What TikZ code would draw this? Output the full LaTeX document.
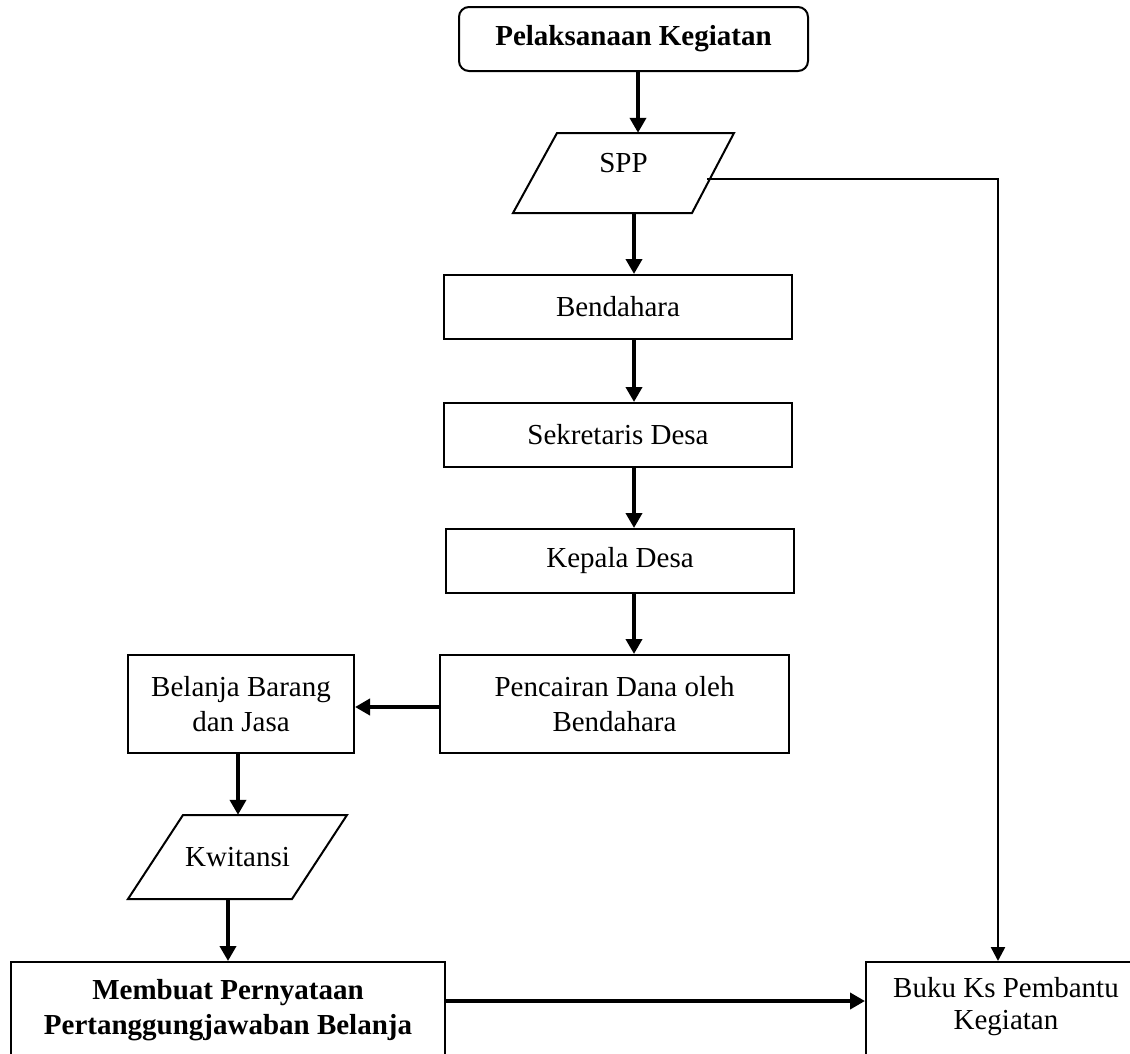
\documentclass[tikz,border=0pt]{standalone}
\usepackage{fontspec}
\setmainfont{Liberation Serif}
\usetikzlibrary{arrows.meta,calc}
\begin{document}
\begin{tikzpicture}[x=1pt,y=-1pt,
  txt/.style={font=\fontsize{29}{35}\selectfont, align=center, inner sep=0pt},
  boxnode/.style={txt, draw, line width=2pt, rectangle},
  plain/.style={txt, draw=none},
  outline/.style={draw, line width=2pt, line join=miter},
  flow/.style={line width=4pt, -{Triangle[length=15pt,width=16pt]}},
  thinflow/.style={line width=2.5pt, -{Triangle[length=14pt,width=14pt]}}
]
\useasboundingbox (0,0) rectangle (1130,1053);
\clip (0,0) rectangle (1130,1053);

% nodes
\node[boxnode, rounded corners=10pt, minimum width=349pt, minimum height=64pt, font=\fontsize{29}{35}\selectfont\bfseries] (top) at (633.5,39) {Pelaksanaan Kegiatan};

\draw[outline] (557,133) -- (734,133) -- (692,213) -- (513,213) -- cycle;
\node[plain, minimum width=170pt, minimum height=80pt] (spp) at (623.5,173) {\raisebox{10pt}[\height][\depth]{SPP}};
\coordinate (sppout) at (707,179);

\node[boxnode, minimum width=348pt, minimum height=64pt] (bend) at (618,307) {Bendahara};
\node[boxnode, minimum width=348pt, minimum height=64pt] (sek) at (618,435) {Sekretaris Desa};
\node[boxnode, minimum width=348pt, minimum height=64pt] (kep) at (620,561) {Kepala Desa};
\node[boxnode, minimum width=349pt, minimum height=98pt] (pen) at (614.5,704) {Pencairan Dana oleh\\Bendahara};
\node[boxnode, minimum width=226pt, minimum height=98pt] (bel) at (241,704) {Belanja Barang\\dan Jasa};

\draw[outline] (183,815) -- (347,815) -- (292,899) -- (128,899) -- cycle;
\node[plain, minimum width=160pt, minimum height=84pt] (kw) at (237.5,857) {Kwitansi};

\node[boxnode, minimum width=434pt, minimum height=111pt, font=\fontsize{29}{35}\selectfont\bfseries] (mem) at (228,1017.5) {\raisebox{8pt}[\height][\depth]{\begin{tabular}{@{}c@{}}Membuat Pernyataan\\Pertanggungjawaban Belanja\end{tabular}}};
\node[boxnode, minimum width=330pt, minimum height=107pt, font=\fontsize{29}{32}\selectfont] (buku) at (1031,1015.5) {\raisebox{8pt}[\height][\depth]{\begin{tabular}{@{}c@{}}Buku Ks Pembantu\\Kegiatan\end{tabular}}\hspace*{50pt}};

\coordinate (col) at (634,0);

% connectors
\draw[flow] ([xshift=4.5pt]top.south) -- ([xshift=4.5pt]top.south |- spp.north);
\draw[flow] (spp.south -| col) -- (bend.north -| col);
\draw[flow] (bend.south -| col) -- (sek.north -| col);
\draw[flow] (sek.south -| col) -- (kep.north -| col);
\draw[flow] (kep.south -| col) -- (pen.north -| col);
\draw[flow] ([yshift=-3pt]pen.west) -- ([yshift=-3pt]pen.west -| bel.east);
\draw[flow] ([xshift=-3pt]bel.south) -- ([xshift=-3pt]bel.south |- kw.north);
\draw[flow] (kw.south -| mem.north) -- (mem.north);
\draw[flow] ([yshift=16.5pt]mem.east) -- ([yshift=16.5pt]mem.east -| buku.west);
\draw[thinflow] (sppout) -| ([xshift=-33pt]buku.north);
\end{tikzpicture}
\end{document}
